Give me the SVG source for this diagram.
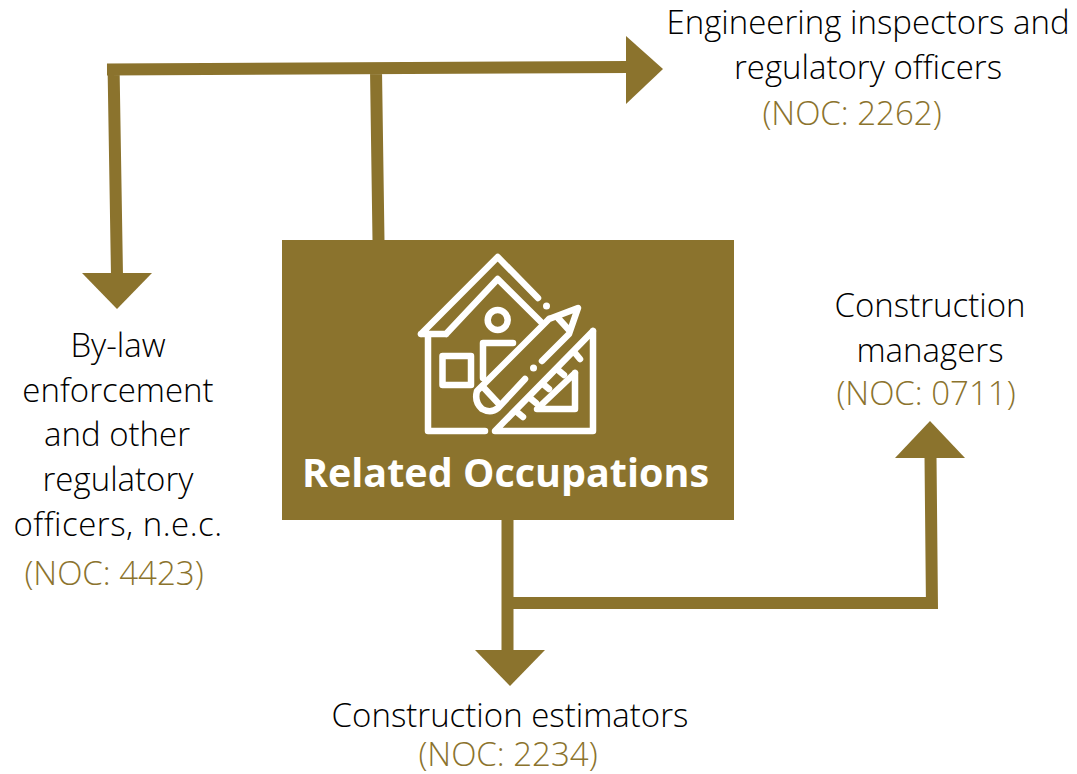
<svg xmlns="http://www.w3.org/2000/svg" width="1077" height="774" viewBox="0 0 1077 774">
<style>
.c{fill:none;stroke:#8b732d;stroke-width:12}
.h{fill:#8b732d}
.t{font-family:"Open Sans","Liberation Sans",sans-serif;font-weight:300;font-size:33px;fill:#000;text-anchor:middle}
.n{fill:#8b732d}
.i{fill:none;stroke:#fff;stroke-width:6.500;stroke-linecap:round;stroke-linejoin:round}
</style>
<rect width="1077" height="774" fill="#fff"/>
<g id="connectors">
<path class="c" d="M107 69.500L630 67M113.500 64L117 276M376 70L378.500 241M507.500 519V652M513 603H937M932 609L930.500 456"/>
<polygon class="h" points="626,36 663,69 626,104"/>
<polygon class="h" points="82,273 152,273 117,309"/>
<polygon class="h" points="475,650 545,650 510,686"/>
<polygon class="h" points="895,458 965,458 930,421"/>
</g>
<g id="center">
<rect x="282" y="240" width="452" height="280" fill="#8b732d"/>
<g class="i">
<path d="M421 334L497.700 257L538 298M446 334H421M446 334L497.700 279L541 322"/>
<path d="M428 335V431H485"/>
<circle cx="497.700" cy="320" r="10"/>
<rect x="442.500" y="356" width="28.500" height="29"/>
<path d="M513 343H483V378"/>
<path d="M549 319L578 308L569 334L542 361M549 319L484 384L477 391Q474 402 482 409Q491 414 498 408L525 379"/>
<path d="M558 318L568 329M484 388L498 403"/>
<path d="M593 331V431H495L593 331"/>
<path d="M575 353L580 359M558 370L564 375M543 384L549 389M530 398L536 403M517 412L523 417"/>
<path d="M575 373V409H537L575 373"/>
</g>
<circle cx="546.500" cy="306" r="3.500" fill="#fff"/>
<circle cx="533.500" cy="368" r="3.500" fill="#fff"/>
<text x="505.500" y="487" font-family="'Open Sans','Liberation Sans',sans-serif" font-weight="700" font-size="39.500" fill="#fff" text-anchor="middle">Related Occupations</text>
</g>
<g id="n2262"><text class="t" x="868" y="34">Engineering inspectors and</text><text class="t" x="868" y="79">regulatory officers</text><text class="t n" x="852" y="125">(NOC: 2262)</text></g>
<g id="n4423"><text class="t" x="118" y="357">By-law</text><text class="t" x="118" y="402">enforcement</text><text class="t" x="117" y="446">and other</text><text class="t" x="118" y="491">regulatory</text><text class="t" x="118" y="536" letter-spacing="0.500">officers, n.e.c.</text><text class="t n" x="114" y="585">(NOC: 4423)</text></g>
<g id="n0711"><text class="t" x="930" y="317">Construction</text><text class="t" x="930" y="362">managers</text><text class="t n" x="926" y="405">(NOC: 0711)</text></g>
<g id="n2234"><text class="t" x="510" y="727">Construction estimators</text><text class="t n" x="508" y="766">(NOC: 2234)</text></g>
</svg>
